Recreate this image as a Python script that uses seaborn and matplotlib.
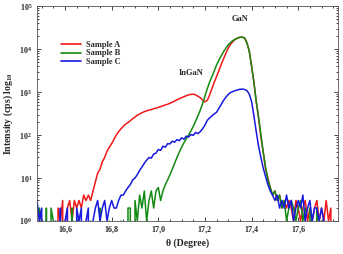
import numpy as np
import pandas as pd
import matplotlib
matplotlib.use("Agg")
import matplotlib.pyplot as plt
import matplotlib.ticker as mticker
import seaborn as sns

# theta grid (degrees), 16.48 .. 17.75 step 0.01
theta = [round(16.48 + 0.01 * i, 2) for i in range(128)]

sample_a = [0, 0, 0, 0, 0, 0, 0, 0, 0, 2,
            1, 3, 0, 2, 3, 1, 3, 2, 3, 2,
            4, 3, 4, 3, 5, 8, 13, 16, 24, 30,
            42, 52, 63, 80, 100, 120, 140, 160, 180, 195,
            215, 240, 260, 290, 310, 330, 350, 365, 380, 390,
            410, 420, 440, 460, 480, 500, 520, 550, 580, 620,
            660, 700, 740, 780, 820, 860, 880, 890, 860, 800,
            740, 650, 590, 640, 850, 1200, 1700, 2300, 3200, 4400,
            6000, 8000, 10500, 13000, 15000, 16800, 18000, 18800, 19000, 18200,
            14000, 9000, 4000, 1700, 600, 250, 90, 40, 16, 10,
            6, 4, 5, 3, 4, 2, 3, 2, 3, 2,
            1, 3, 2, 1, 2, 3, 1, 2, 1, 2,
            3, 1, 2, 1, 3, 1, 2, 0]

sample_b = [0, 2, 1, 0, 2, 0, 2, 1, 0, 0,
            0, 1, 0, 0, 0, 2, 0, 0, 1, 0,
            0, 0, 0, 1, 0, 0, 0, 2, 0, 0,
            0, 1, 0, 0, 0, 0, 1, 0, 0, 2,
            2, 0, 3, 1, 4, 2, 5, 1, 3, 5,
            2, 5, 6, 3, 5, 7, 9, 12, 16, 22,
            30, 40, 52, 66, 82, 100, 125, 160, 210, 280,
            380, 540, 800, 1200, 1700, 2300, 3100, 4300, 5500, 7000,
            8700, 10500, 12500, 14300, 15800, 17000, 18000, 18800, 18800, 18000,
            14000, 9000, 4000, 1700, 600, 260, 100, 40, 18, 9,
            6, 4, 5, 3, 4, 2, 3, 1, 2, 3,
            2, 1, 2, 3, 1, 2, 0, 2, 1, 0,
            2, 0, 1, 0, 0, 0, 0, 0]

sample_c = [3, 1, 2, 0, 1, 0, 0, 0, 1, 0,
            2, 0, 1, 2, 0, 1, 0, 2, 1, 2,
            0, 1, 2, 0, 1, 2, 3, 1, 2, 3,
            1, 2, 3, 2, 2, 3, 4, 4, 5, 6,
            7, 9, 10, 12, 15, 18, 22, 26, 30, 29,
            36, 38, 46, 44, 55, 52, 63, 62, 72, 68,
            78, 74, 86, 80, 94, 90, 103, 98, 115, 108,
            120, 140, 170, 220, 250, 280, 310, 340, 420, 520,
            640, 760, 880, 980, 1030, 1080, 1120, 1160, 1170, 1150,
            1080, 900, 600, 280, 120, 55, 30, 17, 11, 7,
            5, 4, 3, 4, 2, 3, 2, 4, 2, 3,
            1, 2, 3, 2, 4, 1, 2, 3, 1, 2,
            2, 1, 2, 1, 0, 0, 0, 0]

labels = ["Sample A", "Sample B", "Sample C"]
colors = ["#f01818", "#138a13", "#1818e0"]
x_ticks = [16.6, 16.8, 17.0, 17.2, 17.4, 17.6]

df = pd.DataFrame({
    "theta": theta * 3,
    "intensity": sample_a + sample_b + sample_c,
    "sample": [labels[0]] * len(theta) + [labels[1]] * len(theta) + [labels[2]] * len(theta),
})

sns.set_style("ticks")
plt.rcParams["font.family"] = ["Liberation Serif", "DejaVu Serif"]
plt.rcParams["font.weight"] = "bold"
plt.rcParams["mathtext.fontset"] = "custom"
plt.rcParams["mathtext.rm"] = "Liberation Serif:bold"
plt.rcParams["mathtext.bf"] = "Liberation Serif:bold"

fig = plt.figure(figsize=(3.43, 2.54), dpi=100)
ax = fig.add_axes([0.108, 0.13, 0.877, 0.846])

sns.lineplot(data=df, x="theta", y="intensity", hue="sample", palette=colors,
             estimator=None, sort=True, linewidth=1.1, ax=ax, legend=True)

ax.set_yscale("log")
ax.set_ylim(1, 1e5)
ax.set_xlim(16.48, 17.77)
ax.set_xticks(x_ticks)
ax.xaxis.set_major_formatter(mticker.FuncFormatter(lambda v, p: f"{v:.1f}".replace(".", ",")))
ax.xaxis.set_minor_locator(mticker.MultipleLocator(0.05))
ax.yaxis.set_major_locator(mticker.LogLocator(base=10, numticks=10))
ax.yaxis.set_minor_locator(mticker.LogLocator(base=10, subs=np.arange(2, 10), numticks=10))
ax.yaxis.set_minor_formatter(mticker.NullFormatter())
ax.tick_params(which="both", direction="in", top=True, right=True, labelsize=5.8, width=0.6)
ax.tick_params(which="major", length=3)
ax.tick_params(which="minor", length=1.6)
for s in ax.spines.values():
    s.set_linewidth(0.6)
    s.set_color("#555555")

ax.set_xlabel("θ (Degree)", fontsize=7, fontweight="bold", labelpad=3)
ax.set_ylabel("Intensity (cps) log$_{10}$", fontsize=7, fontweight="bold", labelpad=3)

ax.text(17.14, 2750, "InGaN", fontsize=6, fontweight="bold", ha="center", va="center")
ax.text(17.35, 50000, "GaN", fontsize=6, fontweight="bold", ha="center", va="center")

leg = ax.legend(loc="upper left", bbox_to_anchor=(0.07, 0.855), frameon=False,
                fontsize=6, handlelength=2.4, labelspacing=0.1, borderaxespad=0, handletextpad=0.6)
for line in leg.get_lines():
    line.set_linewidth(1.2)

fig.savefig("out.png", dpi=100)
